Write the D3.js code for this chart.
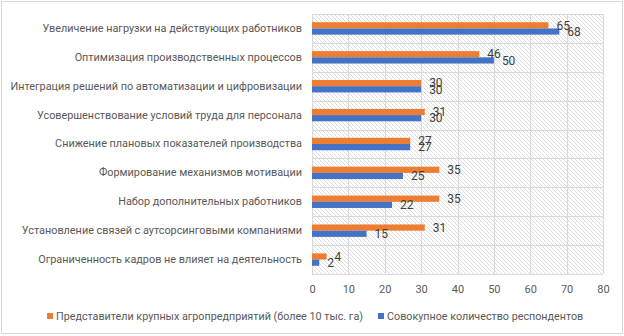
<!DOCTYPE html>
<html>
<head>
<meta charset="utf-8">
<script src="https://cdn.jsdelivr.net/npm/d3@7"></script>
<style>
  html, body { margin: 0; padding: 0; background: #fff; }
  svg { display: block; }
  text { font-family: Roboto, "Liberation Sans", sans-serif; }
</style>
</head>
<body>
<svg id="chart" width="624" height="336"></svg>
<script>
// Survey answers, top to bottom
const categories = [
  "Увеличение нагрузки на действующих работников",
  "Оптимизация производственных процессов",
  "Интеграция решений по автоматизации и цифровизации",
  "Усовершенствование условий труда для персонала",
  "Снижение плановых показателей производства",
  "Формирование механизмов мотивации",
  "Набор дополнительных работников",
  "Установление связей с аутсорсинговыми компаниями",
  "Ограниченность кадров не влияет на деятельность"
];
const seriesNames = [
  "Представители крупных агропредприятий (более 10 тыс. га)",
  "Совокупное количество респондентов"
];
const largeFarms = [65, 46, 30, 31, 27, 35, 35, 31, 4];
const allRespondents = [68, 50, 30, 30, 27, 25, 22, 15, 2];
const seriesColors = ["#ED7D31", "#4472C4"];
const xTicks = [0, 10, 20, 30, 40, 50, 60, 70, 80];

const seriesValues = [largeFarms, allRespondents];

const svg = d3.select("#chart");
const W = 624, H = 336;
const plot = { left: 312, right: 603, top: 14, bottom: 274 };

// chart frame
svg.append("rect")
  .attr("x", 1.5).attr("y", 1.5)
  .attr("width", W - 3).attr("height", H - 4)
  .attr("fill", "#fff").attr("stroke", "#d9d9d9").attr("stroke-width", 1);

// hatched plot background
const defs = svg.append("defs");
const pat = defs.append("pattern")
  .attr("id", "hatch")
  .attr("patternUnits", "userSpaceOnUse")
  .attr("width", 4).attr("height", 4);
pat.append("rect").attr("width", 4).attr("height", 4).attr("fill", "#fff");
pat.append("path")
  .attr("d", "M-1,-1 L5,5 M-1,3 L1,5 M3,-1 L5,1")
  .attr("stroke", "#d4d4d4").attr("stroke-width", 0.8);

const x = d3.scaleLinear().domain([0, 80]).range([plot.left, plot.right]);
const y = d3.scaleBand().domain(categories).range([plot.top, plot.bottom]).paddingInner(0).paddingOuter(0);
const ySub = d3.scaleBand().domain(seriesNames).range([0, y.bandwidth()]).paddingInner(0).paddingOuter(1.33);

svg.append("rect")
  .attr("x", plot.left).attr("y", plot.top)
  .attr("width", plot.right - plot.left).attr("height", plot.bottom - plot.top)
  .attr("fill", "url(#hatch)");

// gridlines
const grid = svg.append("g").attr("stroke", "#d9d9d9").attr("stroke-width", 1);
grid.selectAll("line.v").data(xTicks).join("line")
  .attr("x1", d => Math.round(x(d)) + 0.5).attr("x2", d => Math.round(x(d)) + 0.5)
  .attr("y1", plot.top).attr("y2", plot.bottom);
const boundaries = categories.map(c => y(c)).concat([plot.bottom]);
grid.selectAll("line.h").data(boundaries).join("line")
  .attr("x1", plot.left).attr("x2", plot.right)
  .attr("y1", d => Math.round(d) + 0.5).attr("y2", d => Math.round(d) + 0.5);

// bars
const rows = categories.map((c, i) => ({
  cat: c,
  values: seriesNames.map((s, k) => ({ s, k, v: seriesValues[k][i] }))
}));
const rowG = svg.append("g").selectAll("g").data(rows).join("g")
  .attr("transform", d => `translate(0,${y(d.cat)})`);
rowG.selectAll("rect").data(d => d.values).join("rect")
  .attr("x", x(0))
  .attr("y", d => ySub(d.s))
  .attr("width", d => x(d.v) - x(0))
  .attr("height", ySub.bandwidth())
  .attr("fill", d => seriesColors[d.k]);

// value labels
rowG.selectAll("text").data(d => d.values).join("text")
  .attr("x", d => x(d.v) + 8)
  .attr("y", d => ySub(d.s) + ySub.bandwidth() / 2)
  .attr("dy", "0.35em")
  .attr("font-size", 12)
  .attr("fill", "#404040")
  .text(d => d.v);

// category labels
const yAxis = d3.axisLeft(y).tickSize(0).tickPadding(10);
const yg = svg.append("g").attr("transform", `translate(${plot.left},0)`).call(yAxis);
yg.select(".domain").remove();
yg.selectAll("text").attr("font-size", 10.85).attr("fill", "#595959")
  .style("font-family", "Roboto, 'Liberation Sans', sans-serif");

// value axis labels
const xAxis = d3.axisBottom(x).tickValues(xTicks).tickSize(0).tickPadding(0);
const xg = svg.append("g").attr("transform", `translate(0,285)`).call(xAxis);
xg.select(".domain").remove();
xg.selectAll("text").attr("font-size", 11).attr("fill", "#595959").attr("dy", "0.71em")
  .attr("y", 0)
  .style("font-family", "Roboto, 'Liberation Sans', sans-serif");

// legend
const legendX = [47, 378];
const lg = svg.append("g").selectAll("g").data(seriesNames).join("g")
  .attr("transform", (d, i) => `translate(${legendX[i]},316)`);
lg.append("rect").attr("x", 0).attr("y", -3).attr("width", 6).attr("height", 6)
  .attr("fill", (d, i) => seriesColors[i]);
lg.append("text").attr("x", 9).attr("dy", "0.35em")
  .attr("font-size", 10.75).attr("fill", "#595959")
  .text(d => d);
</script>
</body>
</html>
